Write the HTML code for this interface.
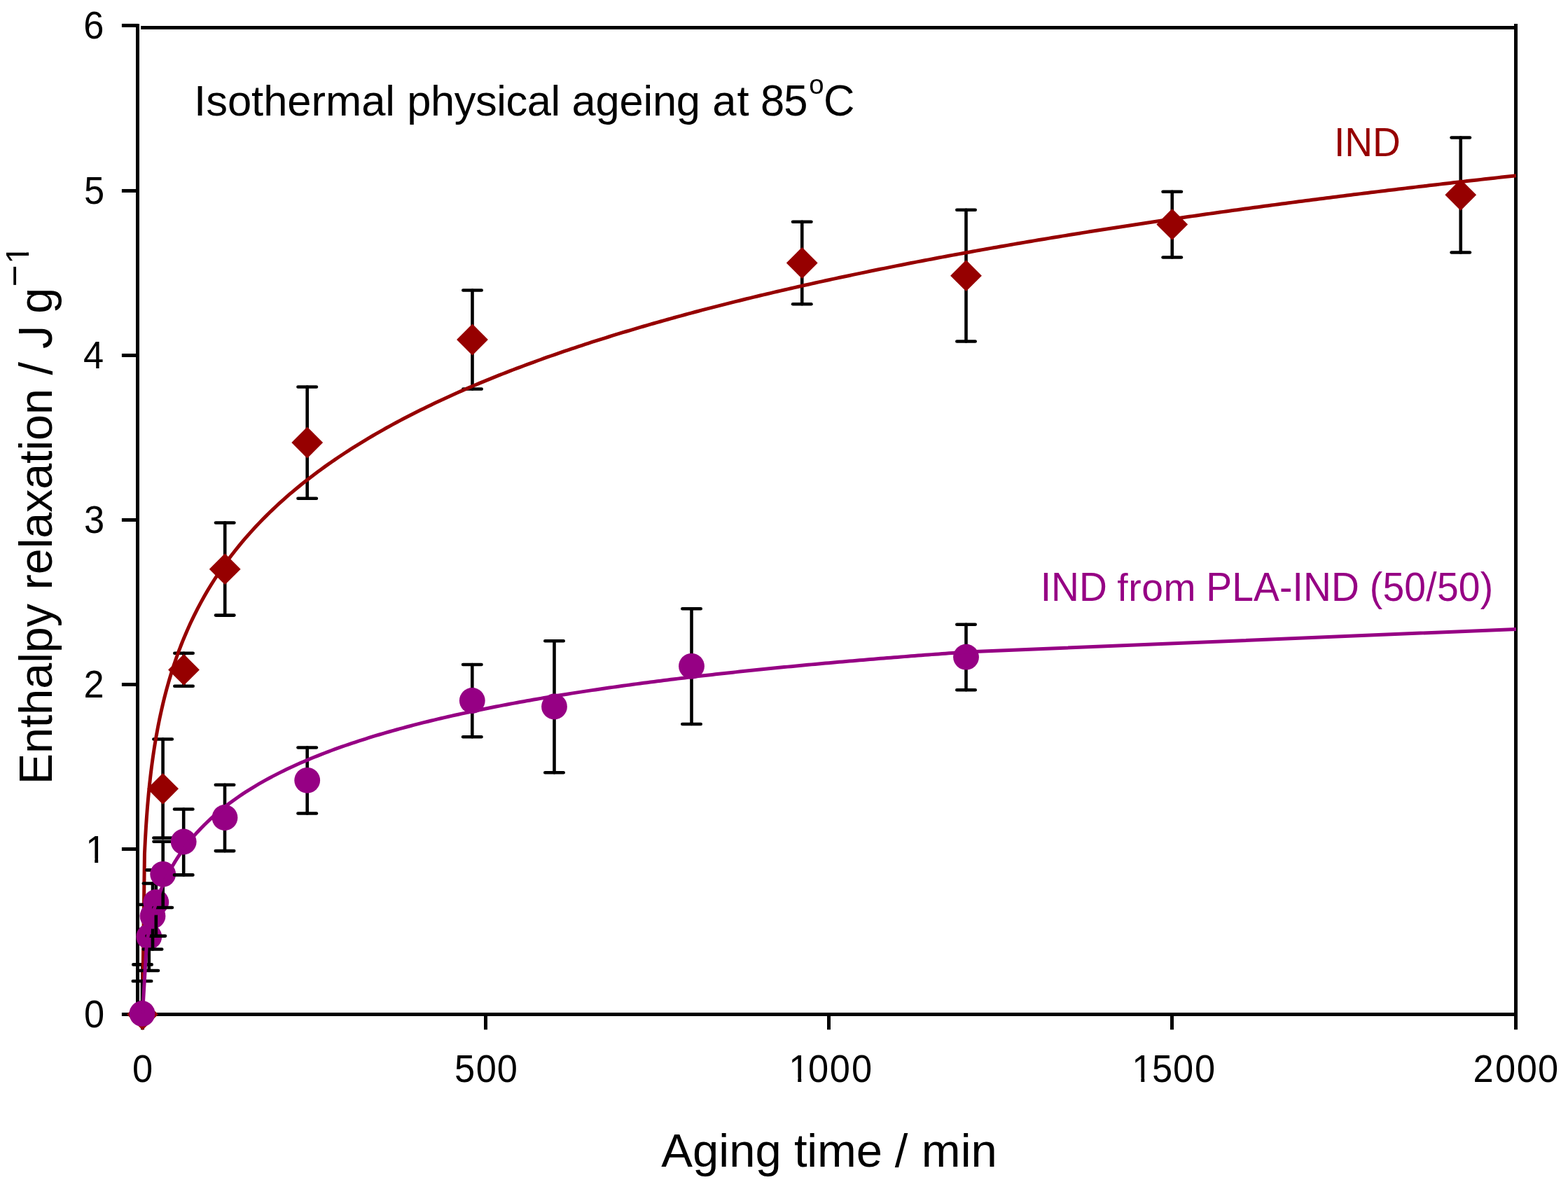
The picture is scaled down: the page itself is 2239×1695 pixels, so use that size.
<!DOCTYPE html>
<html lang="en"><head><meta charset="utf-8"><title>Enthalpy relaxation vs aging time</title>
<style>html,body{margin:0;padding:0;background:#fff}body{width:2239px;height:1695px;overflow:hidden}svg{display:block}text{font-family:'Liberation Sans', sans-serif;font-kerning:none;white-space:pre}</style></head><body>
<svg xmlns="http://www.w3.org/2000/svg" width="2239" height="1695" viewBox="0 0 2239 1695">
<rect width="2239" height="1695" fill="#fff"/>
<defs><clipPath id="c1"><path clip-rule="evenodd" d="M-400 -400H4000V400H-400ZM2.56 -5.61H13.03V10.23H2.56ZM17.96 -5.61H28.14V10.23H17.96Z"/></clipPath><clipPath id="c2"><path clip-rule="evenodd" d="M-400 -400H4000V400H-400ZM12.34 -58.45H22V-38.99H12.34Z"/></clipPath><clipPath id="c3"><path clip-rule="evenodd" d="M-400 -400H4000V400H-400ZM2.29 -5.21H11.67V9.18H2.29ZM16.12 -5.21H25.24V9.18H16.12Z"/></clipPath></defs>
<g stroke="#000" stroke-width="5" fill="none">
<line x1="196.5" y1="33.9" x2="196.5" y2="1450.9"/>
<line x1="173.9" y1="1448.45" x2="2167" y2="1448.45"/>
<line x1="201.1" y1="39.4" x2="2165" y2="39.4"/>
<line x1="2164.5" y1="33.9" x2="2164.5" y2="1470.3"/>
<line x1="173.9" y1="1212.45" x2="197" y2="1212.45"/>
<line x1="173.9" y1="977.45" x2="197" y2="977.45"/>
<line x1="173.9" y1="742.45" x2="197" y2="742.45"/>
<line x1="173.9" y1="507.45" x2="197" y2="507.45"/>
<line x1="173.9" y1="272.45" x2="197" y2="272.45"/>
<line x1="173.9" y1="36.4" x2="197" y2="36.4"/>
<line x1="203.5" y1="1448" x2="203.5" y2="1470.3"/>
<line x1="693.5" y1="1448" x2="693.5" y2="1470.3"/>
<line x1="1183.5" y1="1448" x2="1183.5" y2="1470.3"/>
<line x1="1673.5" y1="1448" x2="1673.5" y2="1470.3"/>
</g>
<g fill="#000">
<text transform="translate(119.24 54.59) scale(1 1.067)" x="0" font-size="52.4">6</text>
<text transform="translate(119.99 290.58) scale(1 1.0618)" x="0" font-size="52.4">5</text>
<text transform="translate(119.09 525.58) scale(1 1.0618)" x="0" font-size="52.4">4</text>
<text transform="translate(120.07 760.58) scale(1 1.0618)" x="0" font-size="52.4">3</text>
<text transform="translate(119.47 995.58) scale(1 1.0618)" x="0" font-size="52.4">2</text>
<text transform="translate(122.21 1231.63) scale(1 1.0632)" x="0" font-size="52.4" clip-path="url(#c1)">1</text>
<text transform="translate(119.94 1466.63) scale(1 1.0632)" x="0" font-size="52.4">0</text>
<text transform="translate(188.9 1544.73) scale(1 1.064)" x="0" font-size="52.4">0</text>
<text transform="translate(648.98 1544.73) scale(1 1.064)" x="0 30.87 60.87" font-size="52.4">500</text>
<text transform="translate(1126.27 1544.73) scale(1 1.064)" x="0 27.64 58.6 89.75" font-size="52.4" clip-path="url(#c1)">1000</text>
<text transform="translate(1616.3 1544.73) scale(1 1.064)" x="0 28.68 58.63 89.83" font-size="52.4" clip-path="url(#c1)">1500</text>
<text transform="translate(2103.48 1544.73) scale(1 1.064)" x="0 31.46 62.29 92.49" font-size="52.4">2000</text>
</g>
<g stroke="#000" stroke-width="4.6" stroke-linecap="round" fill="none">
<line x1="203.5" y1="1377.4" x2="203.5" y2="1448.5"/><line x1="190.3" y1="1377.4" x2="216.7" y2="1377.4"/><line x1="232.6" y1="1055.5" x2="232.6" y2="1196.5"/><line x1="219.4" y1="1055.5" x2="245.8" y2="1055.5"/><line x1="219.4" y1="1196.5" x2="245.8" y2="1196.5"/><line x1="262.5" y1="932.8" x2="262.5" y2="979.7"/><line x1="249.3" y1="932.8" x2="275.7" y2="932.8"/><line x1="249.3" y1="979.7" x2="275.7" y2="979.7"/><line x1="321.2" y1="746.5" x2="321.2" y2="878.6"/><line x1="308" y1="746.5" x2="334.4" y2="746.5"/><line x1="308" y1="878.6" x2="334.4" y2="878.6"/><line x1="438.7" y1="552.5" x2="438.7" y2="711.8"/><line x1="425.5" y1="552.5" x2="451.9" y2="552.5"/><line x1="425.5" y1="711.8" x2="451.9" y2="711.8"/><line x1="674.5" y1="414.5" x2="674.5" y2="555.5"/><line x1="661.3" y1="414.5" x2="687.7" y2="414.5"/><line x1="661.3" y1="555.5" x2="687.7" y2="555.5"/><line x1="1145.25" y1="316.75" x2="1145.25" y2="434.25"/><line x1="1132.05" y1="316.75" x2="1158.45" y2="316.75"/><line x1="1132.05" y1="434.25" x2="1158.45" y2="434.25"/><line x1="1379.5" y1="299.75" x2="1379.5" y2="487.5"/><line x1="1366.3" y1="299.75" x2="1392.7" y2="299.75"/><line x1="1366.3" y1="487.5" x2="1392.7" y2="487.5"/><line x1="1673.75" y1="273.75" x2="1673.75" y2="367.5"/><line x1="1660.55" y1="273.75" x2="1686.95" y2="273.75"/><line x1="1660.55" y1="367.5" x2="1686.95" y2="367.5"/><line x1="2085.75" y1="196.5" x2="2085.75" y2="360.5"/><line x1="2072.55" y1="196.5" x2="2098.95" y2="196.5"/><line x1="2072.55" y1="360.5" x2="2098.95" y2="360.5"/>
</g>
<g fill="#960000">
<path d="M181.1 1448.5L203.5 1426.1L225.9 1448.5L203.5 1470.9Z"/>
<path d="M210.2 1126.3L232.6 1103.9L255 1126.3L232.6 1148.7Z"/>
<path d="M240.1 956.4L262.5 934L284.9 956.4L262.5 978.8Z"/>
<path d="M298.8 812.7L321.2 790.3L343.6 812.7L321.2 835.1Z"/>
<path d="M416.3 632L438.7 609.6L461.1 632L438.7 654.4Z"/>
<path d="M652.1 485L674.5 462.6L696.9 485L674.5 507.4Z"/>
<path d="M1122.85 375.5L1145.25 353.1L1167.65 375.5L1145.25 397.9Z"/>
<path d="M1357.1 393.7L1379.5 371.3L1401.9 393.7L1379.5 416.1Z"/>
<path d="M1651.35 320.4L1673.75 298L1696.15 320.4L1673.75 342.8Z"/>
<path d="M2063.35 278.3L2085.75 255.9L2108.15 278.3L2085.75 300.7Z"/>
</g>
<polyline fill="none" stroke="#960000" stroke-width="5" stroke-linejoin="round" points="203.5,1447.45 206.44,1219.23 207.42,1198.87 208.4,1181.94 209.38,1167.33 210.36,1154.41 211.34,1142.79 212.32,1132.2 213.3,1122.45 214.28,1113.4 215.26,1104.95 216.24,1097 217.22,1089.5 218.2,1082.39 219.18,1075.63 220.16,1069.18 221.14,1063.01 222.12,1057.09 223.1,1051.41 224.08,1045.94 225.06,1040.66 226.04,1035.56 227.02,1030.63 228,1025.85 228.98,1021.22 229.96,1016.72 230.94,1012.35 231.92,1008.09 232.9,1003.95 233.88,999.91 234.86,995.97 235.84,992.13 236.82,988.37 237.8,984.7 238.78,981.1 239.76,977.59 240.74,974.15 241.72,970.77 242.7,967.47 243.68,964.22 244.66,961.04 245.64,957.92 246.62,954.85 247.6,951.84 248.58,948.88 249.56,945.97 250.54,943.1 251.52,940.29 252.5,937.51 253.48,934.79 254.46,932.1 255.44,929.45 256.42,926.84 257.4,924.27 258.38,921.74 259.36,919.24 260.34,916.78 261.32,914.35 262.3,911.95 267.2,900.41 272.1,889.56 277,879.31 281.9,869.59 286.8,860.35 291.7,851.53 296.6,843.1 301.5,835.02 306.4,827.27 311.3,819.8 316.2,812.61 321.1,805.67 326,798.96 330.9,792.47 335.8,786.18 340.7,780.08 345.6,774.16 350.5,768.4 355.4,762.8 360.3,757.35 365.2,752.04 370.1,746.86 375,741.8 379.9,736.87 384.8,732.05 389.7,727.34 394.6,722.73 399.5,718.21 404.4,713.8 409.3,709.47 414.2,705.23 419.1,701.07 424,696.99 428.9,692.98 433.8,689.05 438.7,685.19 443.6,681.4 448.5,677.68 453.4,674.01 458.3,670.41 463.2,666.87 468.1,663.38 473,659.95 477.9,656.57 482.8,653.25 487.7,649.97 492.6,646.74 497.5,643.56 502.4,640.42 507.3,637.33 512.2,634.28 517.1,631.28 522,628.31 526.9,625.38 531.8,622.49 536.7,619.64 541.6,616.83 546.5,614.05 551.4,611.3 556.3,608.59 561.2,605.91 566.1,603.26 571,600.65 575.9,598.06 580.8,595.51 585.7,592.98 590.6,590.48 595.5,588.01 600.4,585.57 605.3,583.15 610.2,580.76 615.1,578.4 620,576.06 624.9,573.74 629.8,571.45 634.7,569.18 639.6,566.93 644.5,564.71 649.4,562.5 654.3,560.32 659.2,558.16 664.1,556.02 669,553.9 673.9,551.81 678.8,549.73 683.7,547.66 688.6,545.62 693.5,543.6 698.4,541.59 703.3,539.61 708.2,537.64 713.1,535.68 718,533.75 722.9,531.83 727.8,529.92 732.7,528.04 737.6,526.16 742.5,524.31 747.4,522.47 752.3,520.64 757.2,518.83 762.1,517.03 767,515.25 771.9,513.48 776.8,511.72 781.7,509.98 786.6,508.25 791.5,506.54 796.4,504.84 801.3,503.15 806.2,501.47 811.1,499.81 816,498.15 820.9,496.51 825.8,494.89 830.7,493.27 835.6,491.66 840.5,490.07 845.4,488.49 850.3,486.92 855.2,485.36 860.1,483.81 865,482.27 869.9,480.74 874.8,479.22 879.7,477.71 884.6,476.21 889.5,474.72 894.4,473.25 899.3,471.78 904.2,470.32 909.1,468.87 914,467.43 918.9,465.99 923.8,464.57 928.7,463.16 933.6,461.75 938.5,460.36 943.4,458.97 948.3,457.59 953.2,456.22 958.1,454.86 963,453.5 967.9,452.16 972.8,450.82 977.7,449.49 982.6,448.16 987.5,446.85 992.4,445.54 997.3,444.24 1002.2,442.95 1007.1,441.67 1012,440.39 1016.9,439.12 1021.8,437.86 1026.7,436.6 1031.6,435.35 1036.5,434.11 1041.4,432.87 1046.3,431.64 1051.2,430.42 1056.1,429.21 1061,428 1065.9,426.8 1070.8,425.6 1075.7,424.41 1080.6,423.23 1085.5,422.05 1090.4,420.88 1095.3,419.71 1100.2,418.56 1105.1,417.4 1110,416.26 1114.9,415.11 1119.8,413.98 1124.7,412.85 1129.6,411.73 1134.5,410.61 1139.4,409.49 1144.3,408.39 1149.2,407.29 1154.1,406.19 1159,405.1 1163.9,404.01 1168.8,402.93 1173.7,401.86 1178.6,400.79 1183.5,399.72 1188.4,398.66 1193.3,397.61 1198.2,396.56 1203.1,395.51 1208,394.47 1212.9,393.43 1217.8,392.4 1222.7,391.38 1227.6,390.36 1232.5,389.34 1237.4,388.33 1242.3,387.32 1247.2,386.32 1252.1,385.32 1257,384.32 1261.9,383.33 1266.8,382.35 1271.7,381.37 1276.6,380.39 1281.5,379.42 1286.4,378.45 1291.3,377.49 1296.2,376.53 1301.1,375.57 1306,374.62 1310.9,373.67 1315.8,372.73 1320.7,371.79 1325.6,370.85 1330.5,369.92 1335.4,368.99 1340.3,368.07 1345.2,367.15 1350.1,366.23 1355,365.32 1359.9,364.41 1364.8,363.51 1369.7,362.61 1374.6,361.71 1379.5,360.82 1384.4,359.92 1389.3,359.04 1394.2,358.15 1399.1,357.27 1404,356.4 1408.9,355.53 1413.8,354.66 1418.7,353.79 1423.6,352.93 1428.5,352.07 1433.4,351.21 1438.3,350.36 1443.2,349.51 1448.1,348.66 1453,347.82 1457.9,346.98 1462.8,346.14 1467.7,345.31 1472.6,344.48 1477.5,343.65 1482.4,342.83 1487.3,342.01 1492.2,341.19 1497.1,340.38 1502,339.56 1506.9,338.75 1511.8,337.95 1516.7,337.15 1521.6,336.35 1526.5,335.55 1531.4,334.75 1536.3,333.96 1541.2,333.17 1546.1,332.39 1551,331.6 1555.9,330.82 1560.8,330.05 1565.7,329.27 1570.6,328.5 1575.5,327.73 1580.4,326.96 1585.3,326.2 1590.2,325.44 1595.1,324.68 1600,323.92 1604.9,323.17 1609.8,322.42 1614.7,321.67 1619.6,320.93 1624.5,320.18 1629.4,319.44 1634.3,318.7 1639.2,317.97 1644.1,317.24 1649,316.51 1653.9,315.78 1658.8,315.05 1663.7,314.33 1668.6,313.61 1673.5,312.89 1678.4,312.17 1683.3,311.46 1688.2,310.75 1693.1,310.04 1698,309.33 1702.9,308.62 1707.8,307.92 1712.7,307.22 1717.6,306.52 1722.5,305.83 1727.4,305.13 1732.3,304.44 1737.2,303.75 1742.1,303.07 1747,302.38 1751.9,301.7 1756.8,301.02 1761.7,300.34 1766.6,299.67 1771.5,298.99 1776.4,298.32 1781.3,297.65 1786.2,296.98 1791.1,296.32 1796,295.65 1800.9,294.99 1805.8,294.33 1810.7,293.67 1815.6,293.02 1820.5,292.36 1825.4,291.71 1830.3,291.06 1835.2,290.41 1840.1,289.77 1845,289.12 1849.9,288.48 1854.8,287.84 1859.7,287.2 1864.6,286.57 1869.5,285.93 1874.4,285.3 1879.3,284.67 1884.2,284.04 1889.1,283.41 1894,282.79 1898.9,282.16 1903.8,281.54 1908.7,280.92 1913.6,280.3 1918.5,279.69 1923.4,279.07 1928.3,278.46 1933.2,277.85 1938.1,277.24 1943,276.63 1947.9,276.03 1952.8,275.42 1957.7,274.82 1962.6,274.22 1967.5,273.62 1972.4,273.02 1977.3,272.43 1982.2,271.83 1987.1,271.24 1992,270.65 1996.9,270.06 2001.8,269.47 2006.7,268.89 2011.6,268.3 2016.5,267.72 2021.4,267.14 2026.3,266.56 2031.2,265.98 2036.1,265.4 2041,264.83 2045.9,264.25 2050.8,263.68 2055.7,263.11 2060.6,262.54 2065.5,261.98 2070.4,261.41 2075.3,260.85 2080.2,260.28 2085.1,259.72 2090,259.16 2094.9,258.6 2099.8,258.05 2104.7,257.49 2109.6,256.94 2114.5,256.38 2119.4,255.83 2124.3,255.28 2129.2,254.74 2134.1,254.19 2139,253.64 2143.9,253.1 2148.8,252.56 2153.7,252.02 2158.6,251.48 2163.5,250.94 2164.97,250.78"/>
<g stroke="#000" stroke-width="4.6" stroke-linecap="round" fill="none"><line x1="203" y1="1401" x2="203" y2="1447.4"/><line x1="189.8" y1="1401" x2="216.2" y2="1401"/></g>
<circle cx="203" cy="1447.4" r="18.4" fill="#960084"/>
<g stroke="#000" stroke-width="4.6" stroke-linecap="round" fill="none"><line x1="212.8" y1="1291.7" x2="212.8" y2="1386"/><line x1="199.6" y1="1291.7" x2="226" y2="1291.7"/><line x1="199.6" y1="1386" x2="226" y2="1386"/></g>
<circle cx="212.8" cy="1337.6" r="18.4" fill="#960084"/>
<g stroke="#000" stroke-width="4.6" stroke-linecap="round" fill="none"><line x1="218" y1="1261.5" x2="218" y2="1355.5"/><line x1="204.8" y1="1261.5" x2="231.2" y2="1261.5"/><line x1="204.8" y1="1355.5" x2="231.2" y2="1355.5"/></g>
<circle cx="218" cy="1308" r="18.4" fill="#960084"/>
<g stroke="#000" stroke-width="4.6" stroke-linecap="round" fill="none"><line x1="222.8" y1="1242.4" x2="222.8" y2="1336.6"/><line x1="209.6" y1="1242.4" x2="236" y2="1242.4"/><line x1="209.6" y1="1336.6" x2="236" y2="1336.6"/></g>
<circle cx="222.8" cy="1288.3" r="18.4" fill="#960084"/>
<g stroke="#000" stroke-width="4.6" stroke-linecap="round" fill="none"><line x1="232.7" y1="1201.7" x2="232.7" y2="1296"/><line x1="219.5" y1="1201.7" x2="245.9" y2="1201.7"/><line x1="219.5" y1="1296" x2="245.9" y2="1296"/></g>
<circle cx="232.7" cy="1248.3" r="18.4" fill="#960084"/>
<g stroke="#000" stroke-width="4.6" stroke-linecap="round" fill="none"><line x1="262.2" y1="1155.5" x2="262.2" y2="1249.4"/><line x1="249" y1="1155.5" x2="275.4" y2="1155.5"/><line x1="249" y1="1249.4" x2="275.4" y2="1249.4"/></g>
<circle cx="262.2" cy="1202" r="18.4" fill="#960084"/>
<g stroke="#000" stroke-width="4.6" stroke-linecap="round" fill="none"><line x1="321" y1="1120.8" x2="321" y2="1215.1"/><line x1="307.8" y1="1120.8" x2="334.2" y2="1120.8"/><line x1="307.8" y1="1215.1" x2="334.2" y2="1215.1"/></g>
<circle cx="321" cy="1167.5" r="18.4" fill="#960084"/>
<g stroke="#000" stroke-width="4.6" stroke-linecap="round" fill="none"><line x1="438.7" y1="1067.5" x2="438.7" y2="1161.5"/><line x1="425.5" y1="1067.5" x2="451.9" y2="1067.5"/><line x1="425.5" y1="1161.5" x2="451.9" y2="1161.5"/></g>
<circle cx="438.7" cy="1114.3" r="18.4" fill="#960084"/>
<g stroke="#000" stroke-width="4.6" stroke-linecap="round" fill="none"><line x1="674.3" y1="949" x2="674.3" y2="1052.25"/><line x1="661.1" y1="949" x2="687.5" y2="949"/><line x1="661.1" y1="1052.25" x2="687.5" y2="1052.25"/></g>
<circle cx="674.3" cy="1000.5" r="18.4" fill="#960084"/>
<g stroke="#000" stroke-width="4.6" stroke-linecap="round" fill="none"><line x1="791.5" y1="915.25" x2="791.5" y2="1103.25"/><line x1="778.3" y1="915.25" x2="804.7" y2="915.25"/><line x1="778.3" y1="1103.25" x2="804.7" y2="1103.25"/></g>
<circle cx="791.5" cy="1009" r="18.4" fill="#960084"/>
<g stroke="#000" stroke-width="4.6" stroke-linecap="round" fill="none"><line x1="987.5" y1="869.25" x2="987.5" y2="1034"/><line x1="974.3" y1="869.25" x2="1000.7" y2="869.25"/><line x1="974.3" y1="1034" x2="1000.7" y2="1034"/></g>
<circle cx="987.5" cy="951.3" r="18.4" fill="#960084"/>
<g stroke="#000" stroke-width="4.6" stroke-linecap="round" fill="none"><line x1="1379.5" y1="891.75" x2="1379.5" y2="985.25"/><line x1="1366.3" y1="891.75" x2="1392.7" y2="891.75"/><line x1="1366.3" y1="985.25" x2="1392.7" y2="985.25"/></g>
<circle cx="1379.5" cy="938.2" r="18.4" fill="#960084"/>
<polyline fill="none" stroke="#960084" stroke-width="5" stroke-linejoin="round" points="203.5,1447.45 209.38,1348.2 210.36,1341.91 211.34,1336.17 212.32,1330.89 213.3,1325.97 214.28,1321.37 215.26,1317.03 216.24,1312.93 217.22,1309.04 218.2,1305.33 219.18,1301.78 220.16,1298.38 221.14,1295.11 222.12,1291.97 223.1,1288.94 224.08,1286.01 225.06,1283.17 226.04,1280.43 227.02,1277.77 228,1275.18 228.98,1272.66 229.96,1270.22 230.94,1267.83 231.92,1265.51 232.9,1263.24 233.88,1261.03 234.86,1258.86 235.84,1256.75 236.82,1254.68 237.8,1252.65 238.78,1250.67 239.76,1248.72 240.74,1246.82 241.72,1244.95 242.7,1243.11 243.68,1241.31 244.66,1239.54 245.64,1237.8 246.62,1236.09 247.6,1234.41 248.58,1232.76 249.56,1231.13 250.54,1229.53 251.52,1227.96 252.5,1226.41 253.48,1224.88 254.46,1223.37 255.44,1221.89 256.42,1220.42 257.4,1218.98 258.38,1217.56 259.36,1216.16 260.34,1214.77 261.32,1213.4 262.3,1212.06 267.2,1205.56 272.1,1199.44 277,1193.66 281.9,1188.17 286.8,1182.95 291.7,1177.97 296.6,1173.21 301.5,1168.65 306.4,1164.27 311.3,1160.06 316.2,1156.01 321.1,1152.1 326,1148.33 330.9,1144.69 335.8,1141.16 340.7,1137.74 345.6,1134.42 350.5,1131.21 355.4,1128.08 360.3,1125.04 365.2,1122.09 370.1,1119.21 375,1116.41 379.9,1113.67 384.8,1111.01 389.7,1108.41 394.6,1105.87 399.5,1103.39 404.4,1100.96 409.3,1098.59 414.2,1096.27 419.1,1094 424,1091.77 428.9,1089.59 433.8,1087.46 438.7,1085.36 443.6,1083.31 448.5,1081.3 453.4,1079.32 458.3,1077.39 463.2,1075.48 468.1,1073.61 473,1071.78 477.9,1069.97 482.8,1068.2 487.7,1066.46 492.6,1064.74 497.5,1063.06 502.4,1061.4 507.3,1059.76 512.2,1058.16 517.1,1056.57 522,1055.02 526.9,1053.48 531.8,1051.97 536.7,1050.48 541.6,1049.02 546.5,1047.57 551.4,1046.15 556.3,1044.74 561.2,1043.36 566.1,1041.99 571,1040.65 575.9,1039.32 580.8,1038.01 585.7,1036.71 590.6,1035.43 595.5,1034.17 600.4,1032.93 605.3,1031.7 610.2,1030.49 615.1,1029.29 620,1028.11 624.9,1026.94 629.8,1025.79 634.7,1024.65 639.6,1023.52 644.5,1022.41 649.4,1021.31 654.3,1020.22 659.2,1019.15 664.1,1018.08 669,1017.03 673.9,1015.99 678.8,1014.97 683.7,1013.95 688.6,1012.95 693.5,1011.95 698.4,1010.97 703.3,1010 708.2,1009.03 713.1,1008.08 718,1007.14 722.9,1006.21 727.8,1005.28 732.7,1004.37 737.6,1003.47 742.5,1002.57 747.4,1001.69 752.3,1000.81 757.2,999.94 762.1,999.08 767,998.23 771.9,997.38 776.8,996.55 781.7,995.72 786.6,994.9 791.5,994.09 796.4,993.29 801.3,992.49 806.2,991.7 811.1,990.92 816,990.14 820.9,989.37 825.8,988.61 830.7,987.86 835.6,987.11 840.5,986.37 845.4,985.63 850.3,984.91 855.2,984.18 860.1,983.47 865,982.76 869.9,982.06 874.8,981.36 879.7,980.67 884.6,979.98 889.5,979.3 894.4,978.63 899.3,977.96 904.2,977.29 909.1,976.64 914,975.98 918.9,975.34 923.8,974.69 928.7,974.06 933.6,973.43 938.5,972.8 943.4,972.18 948.3,971.56 953.2,970.95 958.1,970.34 963,969.74 967.9,969.14 972.8,968.54 977.7,967.95 982.6,967.37 987.5,966.79 992.4,966.21 997.3,965.64 1002.2,965.07 1007.1,964.51 1012,963.95 1016.9,963.4 1021.8,962.85 1026.7,962.3 1031.6,961.76 1036.5,961.22 1041.4,960.68 1046.3,960.15 1051.2,959.62 1056.1,959.1 1061,958.58 1065.9,958.06 1070.8,957.55 1075.7,957.04 1080.6,956.53 1085.5,956.03 1090.4,955.53 1095.3,955.03 1100.2,954.54 1105.1,954.05 1110,953.57 1114.9,953.08 1119.8,952.6 1124.7,952.13 1129.6,951.66 1134.5,951.19 1139.4,950.72 1144.3,950.25 1149.2,949.79 1154.1,949.34 1159,948.88 1163.9,948.43 1168.8,947.98 1173.7,947.53 1178.6,947.09 1183.5,946.65 1188.4,946.21 1193.3,945.78 1198.2,945.35 1203.1,944.92 1208,944.49 1212.9,944.07 1217.8,943.64 1222.7,943.23 1227.6,942.81 1232.5,942.4 1237.4,941.98 1242.3,941.58 1247.2,941.17 1252.1,940.77 1257,940.36 1261.9,939.96 1266.8,939.57 1271.7,939.17 1276.6,938.78 1281.5,938.39 1286.4,938 1291.3,937.62 1296.2,937.24 1301.1,936.86 1306,936.48 1310.9,936.1 1315.8,935.73 1320.7,935.36 1325.6,934.99 1330.5,934.62 1335.4,934.25 1340.3,933.89 1345.2,933.53 1350.1,933.17 1355,932.81 1359.9,932.46 1364.8,932.1 1369.7,931.75 1374.6,931.4 1379.5,931.05 2165,898.4"/>
<g fill="#000">
<text transform="translate(277.12 164.8)" font-size="61.5" letter-spacing="-0.025">Isothermal</text>
<text transform="translate(581.24 164.8)" font-size="61.5" letter-spacing="-0.458">physical</text>
<text transform="translate(816.49 164.8)" font-size="61.5" letter-spacing="-0.221">ageing</text>
<text transform="translate(1017.24 164.8)" font-size="61.5" letter-spacing="1.023">at</text>
<text transform="translate(1085.93 164.8) scale(1 1.03)" font-size="61.5" letter-spacing="-0.752">85</text>
<text transform="translate(1155.19 134.4)" font-size="38.3">o</text>
<text transform="translate(1176.08 164.8) scale(1 1.03)" font-size="61.5">C</text>
<text transform="translate(944.17 1666.2)" font-size="67" letter-spacing="0.047">Aging</text>
<text transform="translate(1133.89 1666.2)" font-size="67" letter-spacing="-0.161">time</text>
<text transform="translate(1277.7 1666.2)" font-size="67">/</text>
<text transform="translate(1315.85 1666.2)" font-size="67" letter-spacing="0.021">min</text>
<text transform="translate(74 1120.36) rotate(-90)" font-size="66.5" letter-spacing="-0.058">Enthalpy</text>
<text transform="translate(74 842.22) rotate(-90)" font-size="66.5" letter-spacing="-0.134">relaxation</text>
<text transform="translate(74 535.6) rotate(-90)" font-size="66.5">/</text>
<text transform="translate(74 497.94) rotate(-90) scale(1 1.04)" font-size="66.5" clip-path="url(#c2)">J</text>
<text transform="translate(74 447.79) rotate(-90)" font-size="66.5">g</text>
<text transform="translate(39.29 409.64) rotate(-90)" font-size="53.5">−</text>
<text transform="translate(41 376.72) rotate(-90)" font-size="47" clip-path="url(#c3)">1</text>
</g>
<text transform="translate(1904.88 222.9) scale(1 1.052)" font-size="55.14" fill="#960000">IND</text>
<g fill="#960084">
<text transform="translate(1485.71 857.5) scale(1 1.052)" font-size="55.2" letter-spacing="0.036">IND</text>
<text transform="translate(1595.32 857.5)" font-size="55.2" letter-spacing="0.607">from</text>
<text transform="translate(1722.27 857.5) scale(1 1.052)" font-size="55.2" letter-spacing="0.148">PLA-IND</text>
<text transform="translate(1955.78 857.5) scale(1 1.04)" font-size="55.2" letter-spacing="0.258">(50/50)</text>
</g>
</svg></body></html>
